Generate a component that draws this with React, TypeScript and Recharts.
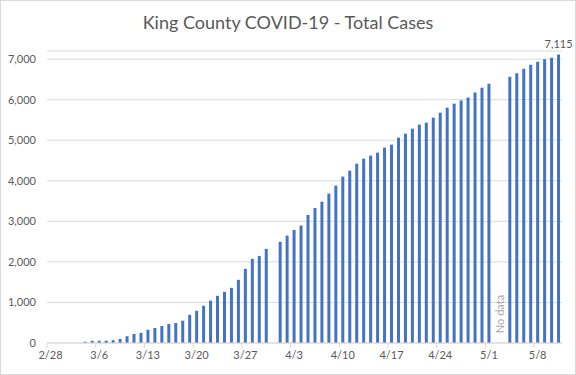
import { Bar, BarChart, CartesianGrid, ReferenceLine, XAxis, YAxis } from "recharts";

const dates = [
  "2/28", "2/29",
  "3/1", "3/2", "3/3", "3/4", "3/5", "3/6", "3/7", "3/8", "3/9", "3/10",
  "3/11", "3/12", "3/13", "3/14", "3/15", "3/16", "3/17", "3/18", "3/19", "3/20",
  "3/21", "3/22", "3/23", "3/24", "3/25", "3/26", "3/27", "3/28", "3/29", "3/30", "3/31",
  "4/1", "4/2", "4/3", "4/4", "4/5", "4/6", "4/7", "4/8", "4/9", "4/10",
  "4/11", "4/12", "4/13", "4/14", "4/15", "4/16", "4/17", "4/18", "4/19", "4/20",
  "4/21", "4/22", "4/23", "4/24", "4/25", "4/26", "4/27", "4/28", "4/29", "4/30",
  "5/1", "5/2", "5/3", "5/4", "5/5", "5/6", "5/7", "5/8", "5/9", "5/10", "5/11",
];

// cumulative cases; null = no data that day
const totals: (number | null)[] = [
  0, 0,
  0, 0, 0, 30, 55, 57, 58, 70, 100, 165,
  225, 250, 325, 370, 420, 470, 495, 550, 695, 795,
  918, 1045, 1164, 1262, 1361, 1558, 1829, 2075, 2148, 2321, null,
  2493, 2649, 2788, 2895, 3157, 3329, 3485, 3683, 3880, 4102,
  4250, 4422, 4546, 4620, 4694, 4817, 4891, 5064, 5162, 5285,
  5384, 5433, 5557, 5680, 5803, 5902, 5980, 6054, 6177, 6295,
  6395, null, null, 6568, 6650, 6765, 6864, 6938, 6995, 7036, 7115,
];

const yTicks = [0, 1000, 2000, 3000, 4000, 5000, 6000, 7000];

const data = dates.map((date, i) => ({ date, total: totals[i] }));
const lastTotal = totals[totals.length - 1];

const TEXT = "#595959";
const GRID = "#d9d9d9";
const FONT = "Lato, 'Open Sans', sans-serif";

function DateTick(props: any) {
  const { x, y, payload } = props;
  return (
    <g>
      <line x1={x - 3.5} x2={x - 3.5} y1={y - 8} y2={y - 3} stroke={GRID} />
      <text x={x} y={y} dy="0.71em" textAnchor="middle" fill={TEXT} fontSize={11}>
        {payload.value}
      </text>
    </g>
  );
}

function EndLabel(props: any) {
  const { x, y, width, value } = props;
  if (value !== lastTotal) return null;
  return (
    <text x={x + width / 2} y={y - 6} textAnchor="middle" fill={TEXT} fontSize={11}>
      {Number(value).toLocaleString("en-US")}
    </text>
  );
}

function NoDataLabel(props: any) {
  const { viewBox } = props;
  const cx = viewBox.x + 3.5;
  const cy = viewBox.y + viewBox.height - 29;
  return (
    <text
      x={cx}
      y={cy}
      transform={`rotate(-90 ${cx} ${cy})`}
      textAnchor="middle"
      dominantBaseline="central"
      fill="#a6a6a6"
      fontSize={11}
    >
      No data
    </text>
  );
}

export default function App() {
  return (
    <div style={{ position: "absolute", left: 0, top: 0, width: 576, height: 375, background: "#fff", fontFamily: FONT }}>
      <div
        style={{
          position: "absolute",
          left: 0,
          right: 0,
          top: 13,
          textAlign: "center",
          fontSize: 18,
          lineHeight: "18px",
          color: TEXT,
        }}
      >
        King County COVID-19 - Total Cases
      </div>
      <BarChart width={576} height={375} data={data} margin={{ top: 51, right: 14, bottom: 2, left: 0 }}>
        <CartesianGrid vertical={false} stroke={GRID} />
        <XAxis
          dataKey="date"
          interval={6}
          height={30}
          tickLine={false}
          stroke={GRID}
          tick={<DateTick />}
        />
        <YAxis
          width={47}
          domain={[0, 7200]}
          ticks={yTicks}
          axisLine={false}
          tickLine={false}
          tickMargin={5}
          tick={{ fill: TEXT, fontSize: 11 }}
          tickFormatter={(v: number) => v.toLocaleString("en-US")}
        />
        <ReferenceLine x="5/2" stroke="none" label={NoDataLabel} />
        <Bar dataKey="total" fill="#4472c4" barSize={3} isAnimationActive={false} label={EndLabel} />
      </BarChart>
      <div
        style={{
          position: "absolute",
          inset: 0,
          border: `1px solid ${GRID}`,
          pointerEvents: "none",
        }}
      />
    </div>
  );
}
